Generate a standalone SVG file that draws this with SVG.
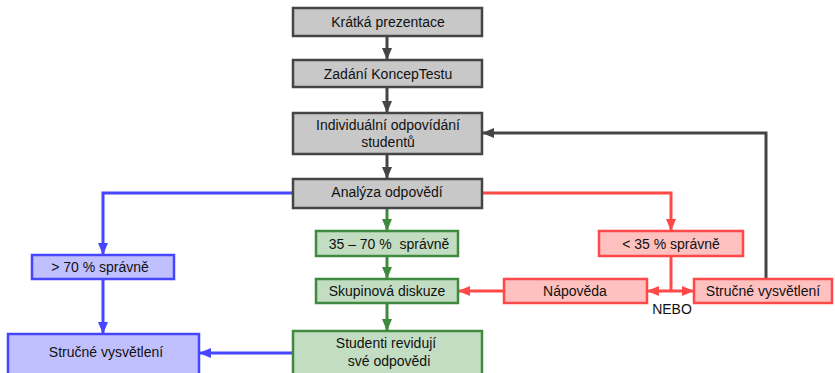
<svg xmlns="http://www.w3.org/2000/svg" width="835" height="373" viewBox="0 0 835 373">
<style>
text{font-family:"Liberation Sans",Arial,sans-serif;font-size:14px;fill:#111;text-anchor:middle}
.g rect{fill:#c8c8c8;stroke:#454545;stroke-width:2.5}
.gr rect{fill:#c2ddc2;stroke:#3e8a3e;stroke-width:2.5}
.b rect{fill:#c0c0ff;stroke:#4646ff;stroke-width:2.5}
.r rect{fill:#ffc0c0;stroke:#ff4848;stroke-width:2.5}
.cg{stroke:#454545;stroke-width:3;fill:none}
.cgr{stroke:#3e8a3e;stroke-width:3;fill:none}
.cb{stroke:#4646ff;stroke-width:3;fill:none}
.cr{stroke:#ff4848;stroke-width:3;fill:none}
</style>
<defs>
<marker id="ag" markerWidth="12" markerHeight="10" refX="11" refY="5" orient="auto" markerUnits="userSpaceOnUse"><path d="M0,0L12,5L0,10z" fill="#454545"/></marker>
<marker id="agr" markerWidth="12" markerHeight="10" refX="11" refY="5" orient="auto" markerUnits="userSpaceOnUse"><path d="M0,0L12,5L0,10z" fill="#3e8a3e"/></marker>
<marker id="ab" markerWidth="12" markerHeight="10" refX="11" refY="5" orient="auto" markerUnits="userSpaceOnUse"><path d="M0,0L12,5L0,10z" fill="#4646ff"/></marker>
<marker id="ar" markerWidth="12" markerHeight="10" refX="11" refY="5" orient="auto" markerUnits="userSpaceOnUse"><path d="M0,0L12,5L0,10z" fill="#ff4848"/></marker>
</defs>
<g id="connectors">
<path class="cg" d="M387,36V59" marker-end="url(#ag)"/>
<path class="cg" d="M387,87V112" marker-end="url(#ag)"/>
<path class="cg" d="M387,154V178" marker-end="url(#ag)"/>
<path class="cgr" d="M387,208V230" marker-end="url(#agr)"/>
<path class="cgr" d="M387,256V278" marker-end="url(#agr)"/>
<path class="cgr" d="M387,303V330" marker-end="url(#agr)"/>
<path class="cb" d="M292,193H103V254" marker-end="url(#ab)"/>
<path class="cb" d="M103,279V333" marker-end="url(#ab)"/>
<path class="cb" d="M292,353H200" marker-end="url(#ab)"/>
<path class="cr" d="M482,193H671V230" marker-end="url(#ar)"/>
<path class="cr" d="M671,256V291"/>
<path class="cr" d="M671,291H648" marker-end="url(#ar)"/>
<path class="cr" d="M671,291H693" marker-end="url(#ar)"/>
<path class="cr" d="M504,291H459" marker-end="url(#ar)"/>
<path class="cg" d="M766,279V133H483" marker-end="url(#ag)"/>
<text x="672" y="314">NEBO</text>
</g>
<g id="n1" class="g"><rect x="293" y="8" width="189" height="28"/><text x="388" y="27">Krátká prezentace</text></g>
<g id="n2" class="g"><rect x="293" y="60" width="189" height="27"/><text x="388" y="79">Zadání KoncepTestu</text></g>
<g id="n3" class="g"><rect x="293" y="113" width="189" height="41"/><text x="388" y="130">Individuální odpovídání</text><text x="388" y="147">studentů</text></g>
<g id="n4" class="g"><rect x="293" y="179" width="189" height="29"/><text x="387" y="197">Analýza odpovědí</text></g>
<g id="n5" class="gr"><rect x="316" y="231" width="142" height="25"/><text x="389" y="249" xml:space="preserve">35 – 70 %  správně</text></g>
<g id="n6" class="gr"><rect x="316" y="279" width="142" height="24"/><text x="387" y="296">Skupinová diskuze</text></g>
<g id="n7" class="gr"><rect x="293" y="331" width="189" height="45"/><text x="386" y="348">Studenti revidují</text><text x="389" y="366">své odpovědi</text></g>
<g id="n8" class="b"><rect x="32" y="255" width="142" height="24"/><text x="100" y="272">&gt; 70 % správně</text></g>
<g id="n9" class="b"><rect x="8" y="334" width="191" height="42"/><text x="106" y="357">Stručné vysvětlení</text></g>
<g id="n10" class="r"><rect x="599" y="231" width="144" height="25"/><text x="671" y="249">&lt; 35 % správně</text></g>
<g id="n11" class="r"><rect x="504" y="279" width="143" height="24"/><text x="575" y="296">Nápověda</text></g>
<g id="n12" class="r"><rect x="694" y="279" width="138" height="24"/><text x="763" y="296">Stručné vysvětlení</text></g>
</svg>
